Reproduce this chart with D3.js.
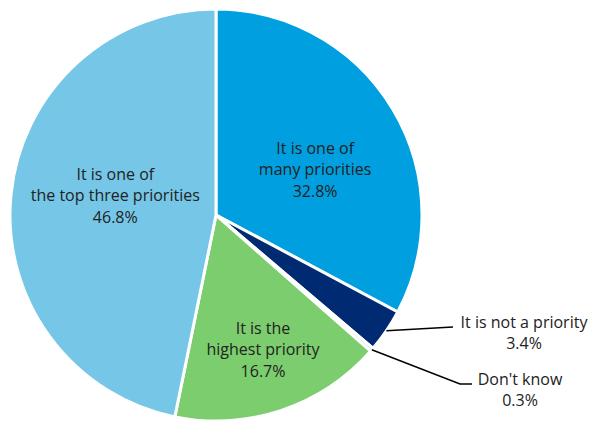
<!DOCTYPE html>
<html>
<head>
<meta charset="utf-8">
<script src="https://cdn.jsdelivr.net/npm/d3@7"></script>
<style>
  html, body { margin: 0; padding: 0; background: #fff; }
  svg text { font-family: "Open Sans", "Noto Sans", sans-serif; font-size: 16px; fill: #222; }
</style>
</head>
<body>
<div id="chart"></div>
<script>
const categories = [
  "It is one of many priorities",
  "It is not a priority",
  "Don't know",
  "It is the highest priority",
  "It is one of the top three priorities"
];
const values = [32.8, 3.4, 0.3, 16.7, 46.8];
const labelLines = [
  ["It is one of", "many priorities"],
  ["It is not a priority"],
  ["Don't know"],
  ["It is the", "highest priority"],
  ["It is one of", "the top three priorities"]
];
const colors = ["#009fdf", "#002b73", "#d0d0d0", "#7ccd6e", "#75c6e7"];

const width = 590;
const height = 421;
const cx = 216, cy = 215, radius = 206;

const data = categories.map((c, i) => ({ name: c, value: values[i], lines: labelLines[i], color: colors[i] }));

const svg = d3.select("#chart")
  .append("svg")
  .attr("width", width)
  .attr("height", height);

const g = svg.append("g").attr("transform", `translate(${cx},${cy})`);

const pie = d3.pie().sort(null).value(d => d.value);
const arcs = pie(data);

const arc = d3.arc().innerRadius(0).outerRadius(radius);
const labelArc = d3.arc().innerRadius(radius * 0.55).outerRadius(radius * 0.55);
const edgeArc = d3.arc().innerRadius(radius).outerRadius(radius);

g.selectAll("path")
  .data(arcs)
  .join("path")
  .attr("d", arc)
  .attr("fill", d => d.data.color)
  .attr("stroke", "#fff")
  .attr("stroke-width", 3)
  .attr("stroke-linejoin", "round");

// inside labels, nudged by hand to match the layout
const nudge = { 0: [2, 13], 3: [11, 27], 4: [12, -8] };
const lineH = 21.5;

arcs.forEach((d, i) => {
  if (!nudge[i]) return;
  const [x, y] = labelArc.centroid(d);
  const lines = d.data.lines.concat([d.data.value.toFixed(1) + "%"]);
  const t = g.append("text")
    .attr("text-anchor", "middle")
    .attr("transform", `translate(${x + nudge[i][0]},${y + nudge[i][1]})`);
  lines.forEach((l, k) => {
    t.append("tspan")
      .attr("x", 0)
      .attr("y", (k - (lines.length - 1) / 2) * lineH)
      .attr("dy", "0.35em")
      .text(l);
  });
});

// outside labels with leader lines
const outside = [
  { i: 1, points: [[453 - cx, 327 - cy]], text: [524 - cx, 322 - cy] },
  { i: 2, points: [[460 - cx, 384 - cy], [472 - cx, 384 - cy]], text: [520 - cx, 379 - cy] }
];

outside.forEach(o => {
  const d = arcs[o.i];
  const start = edgeArc.centroid(d);
  g.append("path")
    .attr("d", d3.line()([start, ...o.points]))
    .attr("fill", "none")
    .attr("stroke", "#000")
    .attr("stroke-width", 1.5);
  const lines = d.data.lines.concat([d.data.value.toFixed(1) + "%"]);
  const t = g.append("text")
    .attr("text-anchor", "middle")
    .attr("transform", `translate(${o.text[0]},${o.text[1]})`);
  lines.forEach((l, k) => {
    t.append("tspan")
      .attr("x", 0)
      .attr("y", k * lineH)
      .attr("dy", "0.35em")
      .text(l);
  });
});
</script>
</body>
</html>
